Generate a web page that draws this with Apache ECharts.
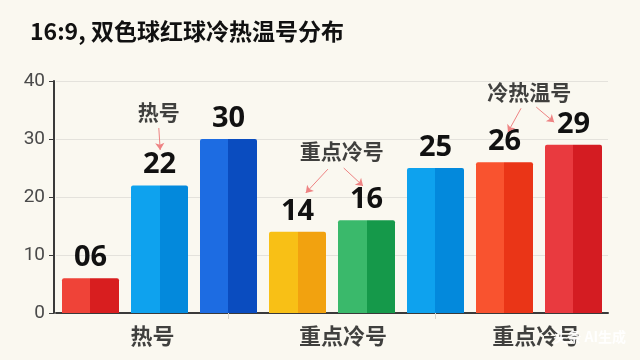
<!DOCTYPE html>
<html>
<head>
<meta charset="utf-8">
<script src="https://cdn.jsdelivr.net/npm/echarts@6/dist/echarts.min.js"></script>
<style>
html,body{margin:0;padding:0;background:#FAF8F0;}
#c{width:640px;height:360px;}
</style>
</head>
<body>
<div id="c"></div>
<script>
// ---- data ----
var titleText = '16:9, 双色球红球冷热温号分布';
var categories = ['b1', 'b2', 'b3', 'b4', 'b5', 'b6', 'b7', 'b8'];
var values = [6, 22, 30, 14, 16, 25, 26, 29];
var yTicks = [0, 10, 20, 30, 40];
var groupLabels = ['热号', '重点冷号', '重点冷号'];
var groupPos = [0.9, 3.66, 6.46];           // in bar-index units
var annoTexts = ['热号', '重点冷号', '冷热温号'];
var annoX = [0.99, 3.64, 6.36];
var annoY = [34.6, 27.9, 38.1];
var arrowFrom = [[0.99, 31.9], [3.44, 24.8], [3.67, 25.0], [6.24, 35.3], [6.46, 35.5]];
var arrowTo   = [[1.01, 28.1], [3.12, 20.7], [3.95, 21.9], [6.05, 31.2], [6.72, 32.9]];
var lightColors = ['#EF4338', '#0EA2EE', '#1D6CE2', '#F8C016', '#3AB96B', '#0EA2EE', '#F9532F', '#E93A3F'];
var darkColors  = ['#D81E1F', '#0389DC', '#0A4CBF', '#F2A20F', '#15994A', '#0389DC', '#EA3517', '#D41C22'];

function twoTone(i) {
  return new echarts.graphic.LinearGradient(0, 0, 1, 0, [
    {offset: 0, color: lightColors[i]},
    {offset: 0.5, color: lightColors[i]},
    {offset: 0.5, color: darkColors[i]},
    {offset: 1, color: darkColors[i]}
  ]);
}

var chart = echarts.init(document.getElementById('c'), null, {renderer: 'canvas'});
var cjk = '"Noto Sans CJK SC", "Noto Sans", sans-serif';

var barData = values.map(function (v, i) {
  return {value: v, itemStyle: {color: twoTone(i)}};
});

var markLines = arrowFrom.map(function (f, i) {
  return [{coord: f}, {coord: arrowTo[i]}];
});

var option = {
  backgroundColor: '#FAF8F0',
  animation: false,
  title: {
    text: titleText,
    left: 25,
    top: 15,
    textStyle: {fontFamily: cjk, fontSize: 23, fontWeight: 'bold', color: '#111'}
  },
  grid: {left: 56, right: 32, top: 81, bottom: 47, containLabel: false},
  xAxis: [{
    type: 'category',
    data: categories,
    axisLine: {lineStyle: {color: '#3a3a3a', width: 2}},
    axisTick: {show: true, alignWithLabel: true, length: 6,
      interval: function (i) { return i === 2 || i === 5; },
      lineStyle: {color: '#d6d4cc'}},
    axisLabel: {show: false}
  }, {
    type: 'value',
    min: -0.5,
    max: 7.5,
    show: false
  }],
  yAxis: {
    type: 'value',
    min: yTicks[0],
    max: yTicks[yTicks.length - 1],
    interval: 10,
    offset: 2,
    axisLine: {show: true, onZero: false, lineStyle: {color: '#3a3a3a', width: 2}},
    axisTick: {show: true, length: 5, lineStyle: {color: '#3a3a3a'}},
    axisLabel: {fontFamily: 'Roboto, sans-serif', fontSize: 19, color: '#4a4a4a', margin: 9},
    splitLine: {lineStyle: {color: '#e4e2dc', width: 1}}
  },
  series: [{
    type: 'bar',
    data: barData,
    barWidth: 57,
    itemStyle: {borderRadius: [2, 2, 0, 0]},
    label: {
      show: true,
      position: 'top',
      distance: 6,
      fontFamily: '"Noto Sans", sans-serif',
      fontSize: 29,
      fontWeight: 'bold',
      color: '#111',
      formatter: function (p) { return String(p.value).padStart(2, '0'); }
    }
  }, {
    type: 'scatter',
    xAxisIndex: 1,
    clip: false,
    symbolSize: 1,
    itemStyle: {color: 'rgba(0,0,0,0)'},
    data: annoTexts.map(function (t, i) { return {value: [annoX[i], annoY[i]], name: t}; }),
    label: {
      show: true, position: 'inside',
      formatter: function (p) { return p.name; },
      fontFamily: cjk, fontSize: 21, fontWeight: 'bold', color: '#111'
    },
    markLine: {
      silent: true,
      symbol: ['none', 'arrow'],
      symbolSize: 7,
      label: {show: false},
      lineStyle: {color: '#EE8383', width: 1, type: 'solid'},
      data: markLines
    }
  }, {
    type: 'scatter',
    xAxisIndex: 1,
    clip: false,
    symbolSize: 1,
    itemStyle: {color: 'rgba(0,0,0,0)'},
    data: groupLabels.map(function (t, i) { return {value: [groupPos[i], -3.9], name: t}; }),
    label: {
      show: true, position: 'inside',
      formatter: function (p) { return p.name; },
      fontFamily: cjk, fontSize: 22, fontWeight: 'bold', color: '#111'
    }
  }],
  graphic: [{
    type: 'text',
    right: 14,
    bottom: 16,
    z: 100,
    style: {
      text: '头条 AI生成',
      font: 'bold 14px "Noto Sans CJK SC", sans-serif',
      fill: 'rgba(255,255,255,0.92)',
      shadowColor: 'rgba(0,0,0,0.35)',
      shadowBlur: 3
    }
  }]
};
chart.setOption(option);
</script>
</body>
</html>
